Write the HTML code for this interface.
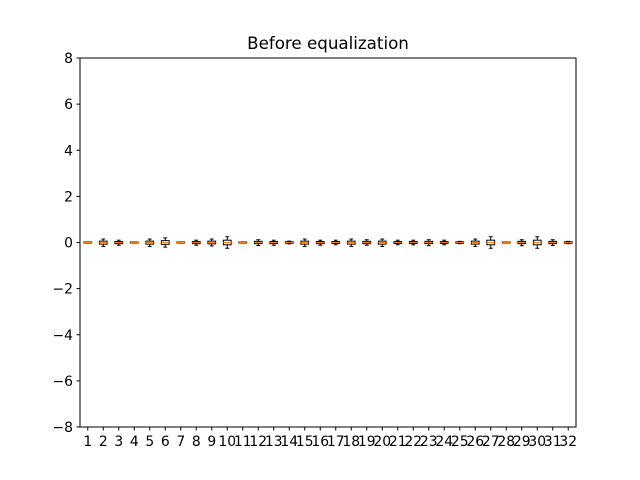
<!DOCTYPE html>
<html><head><meta charset="utf-8"><style>body{margin:0;background:#fff}svg{display:block}</style></head>
<body>
<svg id="c" width="640" height="480" xmlns="http://www.w3.org/2000/svg" font-family="DejaVu Sans, sans-serif">
<rect width="640" height="480" fill="#fff"/>
<text x="328" y="49" text-anchor="middle" font-size="16.7">Before equalization</text>
<g id="plot"></g>
<rect x="80" y="58" width="496" height="369" fill="none" stroke="#000" stroke-width="1"/>
</svg>
<script>
const categories = Array.from({length:32},(_,i)=>String(i+1));
const whiskerLo = [-0.02,-0.17,-0.12,-0.02,-0.17,-0.2,-0.02,-0.12,-0.15,-0.25,-0.02,-0.13,-0.12,-0.06,-0.17,-0.12,-0.1,-0.17,-0.12,-0.17,-0.1,-0.1,-0.14,-0.1,-0.05,-0.17,-0.25,-0.02,-0.14,-0.25,-0.13,-0.05];
const whiskerHi = [0.02,0.15,0.1,0.02,0.15,0.2,0.02,0.1,0.15,0.25,0.02,0.12,0.1,0.06,0.15,0.1,0.1,0.15,0.12,0.15,0.1,0.1,0.12,0.1,0.05,0.15,0.25,0.02,0.12,0.25,0.12,0.05];
const q1 = [-0.02,-0.07,-0.05,-0.02,-0.07,-0.08,-0.02,-0.05,-0.06,-0.1,-0.02,-0.05,-0.05,-0.03,-0.07,-0.05,-0.04,-0.07,-0.05,-0.07,-0.04,-0.04,-0.05,-0.04,-0.03,-0.07,-0.1,-0.02,-0.05,-0.1,-0.05,-0.03];
const q3 = [0.02,0.06,0.04,0.02,0.06,0.08,0.02,0.04,0.06,0.1,0.02,0.05,0.04,0.03,0.06,0.04,0.04,0.06,0.05,0.06,0.04,0.04,0.05,0.04,0.03,0.06,0.1,0.02,0.05,0.1,0.05,0.03];
const medians = new Array(32).fill(0);
const yTicks = [-8,-6,-4,-2,0,2,4,6,8];
const L=80,R=576,T=58,B=427;
const x = v => L + (v-0.5)*(R-L)/32;
const y = v => B - (v+8)*(B-T)/16;
const NS="http://www.w3.org/2000/svg";
const g=document.getElementById('plot');
function mk(tag,attrs){const e=document.createElementNS(NS,tag);for(const k in attrs)e.setAttribute(k,attrs[k]);g.appendChild(e);return e;}
yTicks.forEach(t=>{
  const l=mk('line',{x1:L-3.5,x2:L,y1:y(t),y2:y(t),stroke:'#000'});
  
  
  const tx=mk('text',{x:L-7,y:y(t)+5,'text-anchor':'end','font-size':'13.9'});
  tx.textContent=(t<0?'\u2212'+(-t):t);
  
  
});
categories.forEach((c,i)=>{
  const cx=x(i+1), hw=(R-L)/32*0.25, cw=hw/2;
  const bg=document.createElementNS(NS,'g');g.appendChild(bg);
  
  
  const add=(tag,a)=>{const e=document.createElementNS(NS,tag);for(const k in a)e.setAttribute(k,a[k]);bg.appendChild(e);};
  add('line',{x1:cx,x2:cx,y1:y(whiskerLo[i]),y2:y(q1[i]),stroke:'#000'});
  add('line',{x1:cx,x2:cx,y1:y(q3[i]),y2:y(whiskerHi[i]),stroke:'#000'});
  add('line',{x1:cx-cw,x2:cx+cw,y1:y(whiskerLo[i]),y2:y(whiskerLo[i]),stroke:'#000'});
  add('line',{x1:cx-cw,x2:cx+cw,y1:y(whiskerHi[i]),y2:y(whiskerHi[i]),stroke:'#000'});
  add('rect',{x:cx-hw,y:y(q3[i]),width:2*hw,height:Math.max(0.5,y(q1[i])-y(q3[i])),fill:'none',stroke:'#000'});
  add('line',{x1:cx-hw,x2:cx+hw,y1:y(medians[i]),y2:y(medians[i]),stroke:'#ff7f0e','stroke-width':1});
  const tk=mk('line',{x1:cx,x2:cx,y1:B,y2:B+3.5,stroke:'#000'});
  
  
  const tx=mk('text',{x:cx,y:B+19,'text-anchor':'middle','font-size':'13.9'});
  tx.textContent=c;
  
  
});
</script>
</body></html>
